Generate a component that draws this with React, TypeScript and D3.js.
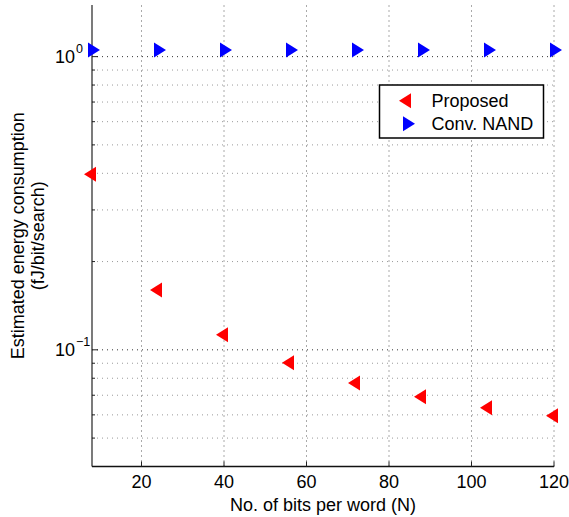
import React, { useEffect, useRef } from 'react'
import * as d3 from 'd3'

// word lengths (N) on the x axis
const bits = [8, 24, 40, 56, 72, 88, 104, 120]
// fJ/bit/search
const proposed = [0.397, 0.160, 0.1125, 0.0903, 0.0771, 0.0692, 0.0635, 0.0596]
const convNand = [1.054, 1.054, 1.054, 1.054, 1.054, 1.054, 1.054, 1.054]

const xTicks = [20, 40, 60, 80, 100, 120]
const yMajorTicks = [0.1, 1]
const yMajorExp = ['\u22121', '0']
const yMinorTicks = [0.05, 0.06, 0.07, 0.08, 0.09, 0.2, 0.3, 0.4, 0.5, 0.6, 0.7, 0.8, 0.9]

const seriesNames = ['Proposed', 'Conv. NAND']
const seriesColors = ['#ff0000', '#0000ff']

const W = 569
const H = 517
const FONT = '"Liberation Sans", Arial, Helvetica, sans-serif'

// triangle marker with its centroid on the point
function triangle(cx: number, cy: number, dir: 'left' | 'right') {
    const w = 12, h = 15
    const s = dir === 'left' ? -1 : 1
    const tip = [cx + s * w * 2 / 3, cy]
    const b1 = [cx - s * w / 3, cy - h / 2]
    const b2 = [cx - s * w / 3, cy + h / 2]
    return `M${tip[0]},${tip[1]}L${b1[0]},${b1[1]}L${b2[0]},${b2[1]}Z`
}

function draw(svgEl: SVGSVGElement) {
    const svg = d3.select(svgEl)
    svg.selectAll('*').remove()

    const x = d3.scaleLinear().domain([8, 120]).range([92, 554])
    const y = d3.scaleLog().domain([0.04, 1.5]).range([466.5, 5])

    const [x0, x1] = x.range()
    const [y0, y1] = y.range()

    // grid
    const grid = svg.append('g')
    grid.selectAll('line.minor')
        .data(yMinorTicks)
        .enter().append('line')
        .attr('x1', x0).attr('x2', x1)
        .attr('y1', d => y(d)).attr('y2', d => y(d))
        .attr('stroke', '#9a9a9a').attr('stroke-width', 1)
        .attr('stroke-dasharray', '1,4')
    grid.selectAll('line.major')
        .data(yMajorTicks)
        .enter().append('line')
        .attr('x1', x0).attr('x2', x1)
        .attr('y1', d => y(d)).attr('y2', d => y(d))
        .attr('stroke', '#333').attr('stroke-width', 1)
        .attr('stroke-dasharray', '1,4')
    grid.selectAll('line.vx')
        .data(xTicks)
        .enter().append('line')
        .attr('x1', d => x(d)).attr('x2', d => x(d))
        .attr('y1', y0).attr('y2', y1)
        .attr('stroke', '#555').attr('stroke-width', 1)
        .attr('stroke-dasharray', '1,4')

    // axes lines
    svg.append('line')
        .attr('x1', x0).attr('x2', x0).attr('y1', y0).attr('y2', y1)
        .attr('stroke', '#333').attr('stroke-width', 1.3)
    svg.append('line')
        .attr('x1', x0).attr('x2', x1).attr('y1', y0).attr('y2', y0)
        .attr('stroke', '#111').attr('stroke-width', 1.3)

    // ticks
    svg.selectAll('line.xt')
        .data(xTicks)
        .enter().append('line')
        .attr('x1', d => x(d)).attr('x2', d => x(d))
        .attr('y1', y0).attr('y2', y0 - 5)
        .attr('stroke', '#222')
    svg.selectAll('line.ymaj')
        .data(yMajorTicks)
        .enter().append('line')
        .attr('x1', x0).attr('x2', x0 + 6)
        .attr('y1', d => y(d)).attr('y2', d => y(d))
        .attr('stroke', '#222')
    svg.selectAll('line.ymin')
        .data(yMinorTicks)
        .enter().append('line')
        .attr('x1', x0).attr('x2', x0 + 3)
        .attr('y1', d => y(d)).attr('y2', d => y(d))
        .attr('stroke', '#222')

    // tick labels
    svg.selectAll('text.xl')
        .data(xTicks)
        .enter().append('text')
        .attr('x', d => x(d)).attr('y', 488)
        .attr('text-anchor', 'middle')
        .attr('font-family', FONT).attr('font-size', 18)
        .text(d => d)

    const yl = svg.selectAll('g.yl')
        .data(yMajorTicks)
        .enter().append('g')
    yl.append('text')
        .attr('x', 75).attr('y', d => y(d) + 6.5)
        .attr('text-anchor', 'end')
        .attr('font-family', FONT).attr('font-size', 18)
        .text('10')
    yl.append('text')
        .attr('x', 76).attr('y', d => y(d) - 3.5)
        .attr('font-family', FONT).attr('font-size', 12.5)
        .text((d, i) => yMajorExp[i])

    // axis titles
    svg.append('text')
        .attr('x', x((8 + 120) / 2)).attr('y', 511)
        .attr('text-anchor', 'middle')
        .attr('font-family', FONT).attr('font-size', 18)
        .text('No. of bits per word (N)')

    const yc = (y0 + y1) / 2
    const yt = svg.append('text')
        .attr('transform', `translate(0,${yc}) rotate(-90)`)
        .attr('text-anchor', 'middle')
        .attr('font-family', FONT).attr('font-size', 18)
    yt.append('tspan').attr('x', 0).attr('y', 24).text('Estimated energy consumption')
    yt.append('tspan').attr('x', 0).attr('y', 44).text('(fJ/bit/search)')

    // markers
    svg.selectAll('path.prop')
        .data(proposed)
        .enter().append('path')
        .attr('d', (d, i) => triangle(x(bits[i]), y(d), 'left'))
        .attr('fill', seriesColors[0])
    svg.selectAll('path.nand')
        .data(convNand)
        .enter().append('path')
        .attr('d', (d, i) => triangle(x(bits[i]), y(d), 'right'))
        .attr('fill', seriesColors[1])

    // legend
    const lg = svg.append('g')
    lg.append('rect')
        .attr('x', 379.5).attr('y', 85)
        .attr('width', 164).attr('height', 53)
        .attr('fill', '#fff').attr('stroke', '#000').attr('stroke-width', 1.5)
    const dirs: ('left' | 'right')[] = ['left', 'right']
    seriesNames.forEach((name, i) => {
        const cy = 100.7 + i * 23
        lg.append('path')
            .attr('d', triangle(407, cy, dirs[i]))
            .attr('fill', seriesColors[i])
        lg.append('text')
            .attr('x', 431.5).attr('y', cy + 6)
            .attr('font-family', FONT).attr('font-size', 18)
            .text(name)
    })
}

export default function App() {
    const ref = useRef<SVGSVGElement>(null)

    useEffect(() => {
        if (ref.current) draw(ref.current)
    }, [])

    return (
        <svg ref={ref} width={W} height={H}
            style={{ position: 'absolute', left: 0, top: 0, background: '#fff' }} />
    )
}
